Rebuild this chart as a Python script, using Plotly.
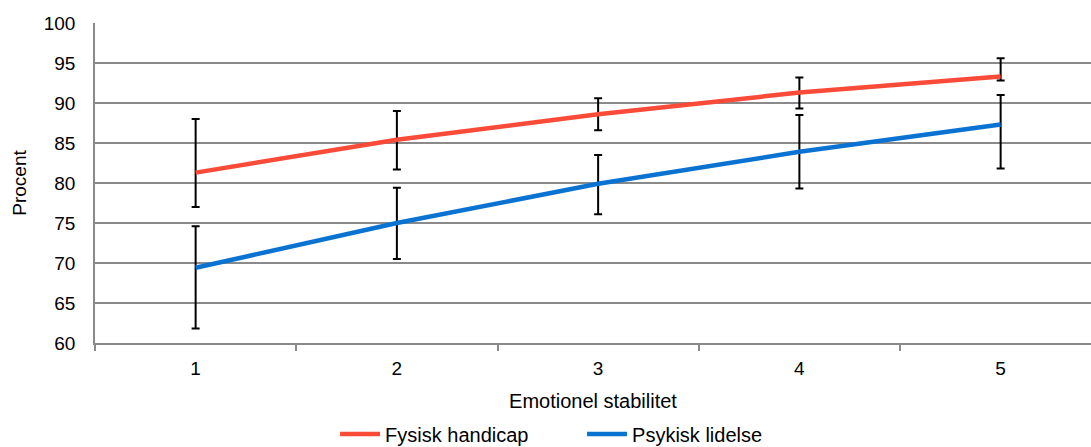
import plotly.graph_objects as go

categories = ["1", "2", "3", "4", "5"]

fysisk = [81.3, 85.4, 88.6, 91.3, 93.3]
fysisk_upper = [88.0, 89.0, 90.6, 93.2, 95.6]
fysisk_lower = [77.0, 81.7, 86.6, 89.3, 92.8]

psykisk = [69.4, 75.0, 79.9, 83.9, 87.3]
psykisk_upper = [74.6, 79.4, 83.5, 88.5, 91.0]
psykisk_lower = [61.8, 70.5, 76.1, 79.3, 81.8]

y_ticks = [60, 65, 70, 75, 80, 85, 90, 95, 100]

FONT = "Liberation Sans, Arial, sans-serif"

def err(vals, up, lo):
    return dict(
        type="data", symmetric=False,
        array=[u - v for u, v in zip(up, vals)],
        arrayminus=[v - l for v, l in zip(vals, lo)],
        color="black", thickness=2, width=4,
    )

fig = go.Figure()
fig.add_trace(go.Scatter(
    x=categories, y=fysisk, mode="lines", name="Fysisk handicap",
    line=dict(color="#FA4A38", width=4.5),
    error_y=err(fysisk, fysisk_upper, fysisk_lower),
))
fig.add_trace(go.Scatter(
    x=categories, y=psykisk, mode="lines", name="Psykisk lidelse",
    line=dict(color="#0A73D2", width=4.5),
    error_y=err(psykisk, psykisk_upper, psykisk_lower),
))

fig.update_layout(
    width=1091, height=447,
    margin=dict(l=95, r=0, t=23, b=104, autoexpand=False),
    paper_bgcolor="white", plot_bgcolor="white",
    font=dict(family=FONT, size=19, color="black"),
    showlegend=True,
    legend=dict(orientation="h", x=0.489, xanchor="center", y=-0.345, yanchor="bottom",
                font=dict(size=20), itemwidth=40, tracegroupgap=0, traceorder="normal",
                entrywidth=192, entrywidthmode="pixels"),
)
fig.update_xaxes(
    type="category", range=[-0.5, 4.449], automargin=False,
    showgrid=False, showline=True, linecolor="#8a8a8a", linewidth=1.5,
    ticks="outside", tickson="boundaries", ticklen=6, tickcolor="#8a8a8a", tickwidth=1.5,
    tickfont=dict(size=19), ticklabelstandoff=7,
    title=dict(text="Emotionel stabilitet", font=dict(size=20), standoff=16),
)
fig.update_yaxes(
    range=[60, 100], tickvals=y_ticks, automargin=False,
    showgrid=True, gridcolor="#8a8a8a", gridwidth=1.5,
    showline=True, linecolor="#8a8a8a", linewidth=1.5,
    zeroline=False, ticks="", ticklabelstandoff=14,
    tickfont=dict(size=19),
    title=dict(text="Procent", font=dict(size=19), standoff=12),
)

fig.write_html("out.html", config={"displayModeBar": False},
               post_script="document.body.style.margin='0';document.body.style.overflow='hidden';")
